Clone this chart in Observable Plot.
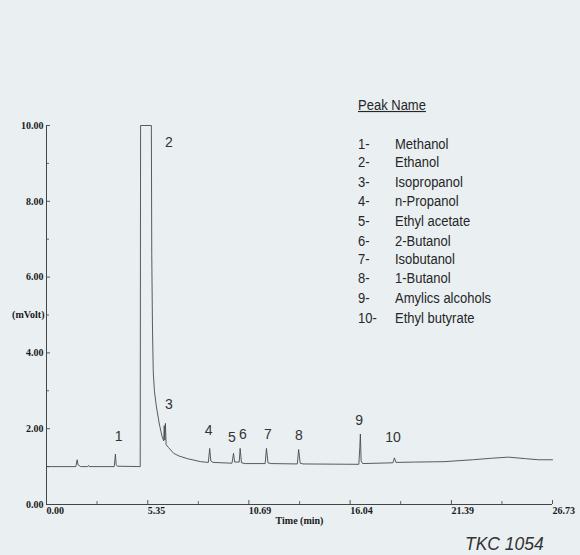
<!DOCTYPE html>
<html><head><meta charset="utf-8">
<script src="https://cdn.jsdelivr.net/npm/d3@7"></script>
<script src="https://cdn.jsdelivr.net/npm/@observablehq/plot@0.6"></script>
<style>
html,body{margin:0;padding:0;background:#eaeff2;}
#wrap{position:relative;width:580px;height:555px;overflow:hidden;background:#eaeff2;}
#chart{position:absolute;left:0;top:0;}
#legend{position:absolute;left:358px;top:96px;font-family:"Liberation Sans",Arial,sans-serif;font-size:13px;line-height:16.8px;color:#262626;transform:scale(1,1.15);transform-origin:0 0;}
#legend .head{text-decoration:underline;margin-bottom:16.8px;}
#legend .row{display:flex;}
#legend .num{width:37px;}
#tkc{position:absolute;left:465px;top:535px;font-family:"Liberation Sans",Arial,sans-serif;font-style:italic;font-size:17.5px;line-height:19px;color:#333;white-space:nowrap;}
</style>
</head><body>
<div id="wrap">
  <div id="chart"></div>
  <div id="legend"></div>
  <div id="tkc">TKC 1054</div>
</div>
<script>
// Chromatogram trace (time in min, signal in mVolt)
const times = [0.00, 1.55, 1.62, 1.66, 1.72, 1.80, 2.18, 2.22, 2.26, 3.58, 3.64, 3.68, 3.75,
  4.95, 4.97, 5.54, 5.56, 5.60, 5.64, 5.70, 5.80, 5.95, 6.10, 6.19, 6.22, 6.25, 6.28, 6.32, 6.45, 6.72, 7.00, 7.44, 8.15,
  8.55, 8.62, 8.68, 8.80, 9.80, 9.88, 9.94, 10.18, 10.23, 10.30, 10.50, 11.55, 11.62, 11.70, 11.85,
  13.25, 13.32, 13.40, 13.55, 16.50, 16.55, 16.58, 16.62, 16.70, 18.30, 18.38, 18.46,
  19.50, 21.00, 22.50, 23.50, 24.40, 25.30, 26.00, 26.73];
const volts = [1.00, 1.00, 1.18, 1.05, 1.03, 1.00, 1.00, 1.03, 1.00, 1.00, 1.33, 1.05, 1.01,
  1.00, 10.00, 10.00, 6.60, 4.60, 3.50, 3.00, 2.60, 2.15, 1.80, 1.68, 2.08, 1.70, 2.14, 1.58, 1.50, 1.35, 1.28, 1.21, 1.13,
  1.11, 1.48, 1.15, 1.11, 1.09, 1.35, 1.12, 1.12, 1.48, 1.10, 1.08, 1.08, 1.48, 1.10, 1.08,
  1.07, 1.45, 1.09, 1.07, 1.06, 1.50, 1.86, 1.15, 1.08, 1.10, 1.23, 1.11,
  1.12, 1.13, 1.18, 1.22, 1.25, 1.21, 1.18, 1.18];

// Peak number labels
const peakIds = ["1", "2", "3", "4", "5", "6", "7", "8", "9", "10"];
const labelTimes = [3.81, 6.46, 6.46, 8.57, 9.79, 10.37, 11.69, 13.33, 16.51, 18.31];
const labelVolts = [1.79, 9.55, 2.64, 1.95, 1.77, 1.85, 1.85, 1.82, 2.22, 1.77];

// Legend
const peakNames = ["Methanol", "Ethanol", "Isopropanol", "n-Propanol", "Ethyl acetate",
  "2-Butanol", "Isobutanol", "1-Butanol", "Amylics alcohols", "Ethyl butyrate"];

// Axis ticks
const xMajor = [0, 5.35, 10.69, 16.04, 21.39, 26.73];
const xMinor = [2.67, 8.02, 13.37, 18.71, 24.06];
const yMajor = [0, 2, 4, 6, 8, 10];
const yMinor = [1, 3, 5, 7, 9];

const trace = times.map((t, i) => ({t, v: volts[i]}));
const labels = peakIds.map((id, i) => ({id, t: labelTimes[i], v: labelVolts[i]}));

const serif = '"Liberation Serif","Times New Roman",serif';
const sans = '"Liberation Sans",Arial,sans-serif';
const axisFont = {fontFamily: serif, fontWeight: "bold", fontSize: 10, fill: "#1a1a1a"};

const chart = Plot.plot({
  width: 580, height: 555,
  marginTop: 125, marginBottom: 51, marginLeft: 46, marginRight: 28,
  x: {domain: [0, 26.73]},
  y: {domain: [0, 10]},
  style: {background: "transparent", overflow: "visible"},
  marks: [
    Plot.axisX({ticks: xMajor, tickSize: -4, tickPadding: 6, tickFormat: d => d.toFixed(2), textAnchor: "start", label: null, stroke: "#555", ...axisFont}),
    Plot.axisX({ticks: xMinor, tickSize: -3, tickFormat: () => "", label: null, stroke: "#666"}),
    Plot.axisY({ticks: yMajor, tickSize: -4, tickPadding: 7, tickFormat: d => d.toFixed(2), label: null, stroke: "#555", ...axisFont}),
    Plot.axisY({ticks: yMinor, tickSize: -3, tickFormat: () => "", label: null, stroke: "#666"}),
    Plot.ruleX([0], {stroke: "#444", strokeWidth: 1}),
    Plot.ruleY([0], {stroke: "#444", strokeWidth: 1}),
    Plot.text(["(mVolt)"], {frameAnchor: "left", textAnchor: "end", dx: -2, ...axisFont}),
    Plot.text(["Time (min)"], {frameAnchor: "bottom", dy: 19, ...axisFont}),
    Plot.line(trace, {x: "t", y: "v", stroke: "#4a4a4a", strokeWidth: 0.9}),
    Plot.text(labels, {x: "t", y: "v", text: "id", fontFamily: sans, fontSize: 14, fill: "#333"})
  ]
});
document.getElementById("chart").appendChild(chart);

const legend = document.getElementById("legend");
const head = document.createElement("div");
head.className = "head";
head.textContent = "Peak Name";
legend.appendChild(head);
peakNames.forEach((name, i) => {
  const row = document.createElement("div");
  row.className = "row";
  const n = document.createElement("span");
  n.className = "num";
  n.textContent = peakIds[i] + "-";
  const s = document.createElement("span");
  s.textContent = name;
  row.appendChild(n); row.appendChild(s);
  legend.appendChild(row);
});
</script>
</body></html>
